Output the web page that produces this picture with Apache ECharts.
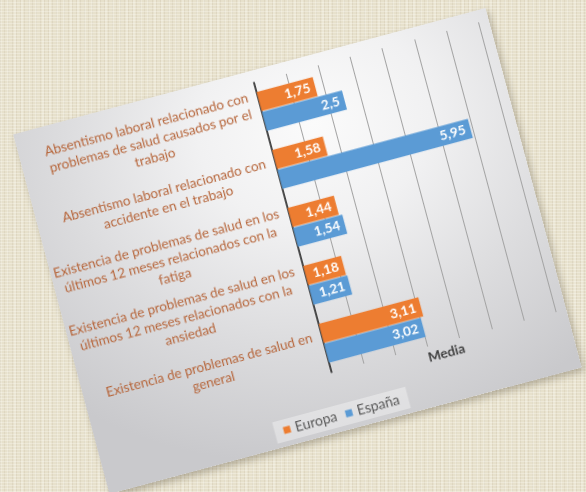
<!DOCTYPE html>
<html>
<head>
<meta charset="utf-8">
<script src="https://cdn.jsdelivr.net/npm/echarts@6/dist/echarts.min.js"></script>
<style>
html,body{margin:0;padding:0;width:586px;height:492px;overflow:hidden;}
body{
  background-color:#e7e1cc;
  background-image:
    repeating-linear-gradient(0deg, rgba(255,255,250,0.28) 0px, rgba(255,255,250,0.28) 1px, transparent 1px, transparent 3px),
    repeating-linear-gradient(90deg, rgba(150,135,100,0.11) 0px, rgba(150,135,100,0.11) 1px, transparent 1px, transparent 4px),
    repeating-linear-gradient(90deg, rgba(255,255,255,0.2) 0px, rgba(255,255,255,0.2) 2px, transparent 2px, transparent 7px);
}
#card{
  position:absolute;left:53px;top:65px;width:489px;height:372px;
  transform:rotate(-15deg);transform-origin:50% 50%;
  background:radial-gradient(ellipse 80% 90% at 60% 18%, #fbfbfb 0%, #f1f1f2 30%, #dcdcde 65%, #c9c9cc 100%);
  box-shadow:2px 4px 7px rgba(60,50,30,0.3);
}
#chart{width:489px;height:372px;}
</style>
</head>
<body>
<div id="card"><div id="chart"></div></div>
<script>
const categories = [
  "Absentismo laboral relacionado con\nproblemas de salud causados por el\ntrabajo",
  "Absentismo laboral relacionado con\naccidente en el trabajo",
  "Existencia de problemas de salud en los\núltimos 12 meses relacionados con la\nfatiga",
  "Existencia de problemas de salud en los\núltimos 12 meses relacionados con la\nansiedad",
  "Existencia de problemas de salud en\ngeneral"
];
const europa = [1.75, 1.58, 1.44, 1.18, 3.11];
const espana = [2.5, 5.95, 1.54, 1.21, 3.02];
const seriesNames = ["Europa", "España"];
const axisTitle = "Media";
const xMin = 0, xMax = 7, xInterval = 1;

const FONT = "Lato, 'Open Sans', sans-serif";
const chart = echarts.init(document.getElementById('chart'), null, {devicePixelRatio: 2});
const labelStyle = {
  show: true, position: 'insideRight', distance: 5,
  color: '#ffffff', fontSize: 13.5, fontWeight: 'bold', fontFamily: FONT,
  formatter: p => String(p.value).replace('.', ',')
};
chart.setOption({
  animation: false,
  grid: {left: 244, right: 11, top: 12, bottom: 60, containLabel: false},
  legend: {
    data: seriesNames, left: 'center', bottom: 5,
    icon: 'rect', itemWidth: 7, itemHeight: 7, itemGap: 9,
    padding: [4, 9], backgroundColor: 'rgba(255,255,255,0.35)',
    textStyle: {color: '#595959', fontSize: 14, fontFamily: FONT}
  },
  xAxis: {
    type: 'value', min: xMin, max: xMax, interval: xInterval,
    name: axisTitle, nameLocation: 'middle', nameGap: 4,
    nameTextStyle: {color: '#404040', fontSize: 13.5, fontWeight: 'bold', fontFamily: FONT, verticalAlign: 'top'},
    axisLabel: {show: false}, axisTick: {show: false}, axisLine: {show: false},
    splitLine: {show: true, lineStyle: {color: '#a3a3a3', width: 1}}
  },
  yAxis: {
    type: 'category', data: categories, inverse: true,
    axisTick: {show: false},
    axisLine: {show: true, lineStyle: {color: '#202020', width: 1.5}},
    axisLabel: {
      margin: 10, align: 'right',
      formatter: v => v.split('\n').map(l => '{c|' + l + '}').join('\n'),
      rich: {c: {align: 'center', color: '#b6653a', fontSize: 13.5, fontFamily: FONT, lineHeight: 17}}
    }
  },
  series: [
    {name: seriesNames[0], type: 'bar', data: europa, barCategoryGap: '33%', barGap: '4%',
     itemStyle: {color: '#ed7d31'}, label: labelStyle},
    {name: seriesNames[1], type: 'bar', data: espana, barCategoryGap: '33%', barGap: '4%',
     itemStyle: {color: '#5b9bd5'}, label: labelStyle}
  ]
});
</script>
</body>
</html>
